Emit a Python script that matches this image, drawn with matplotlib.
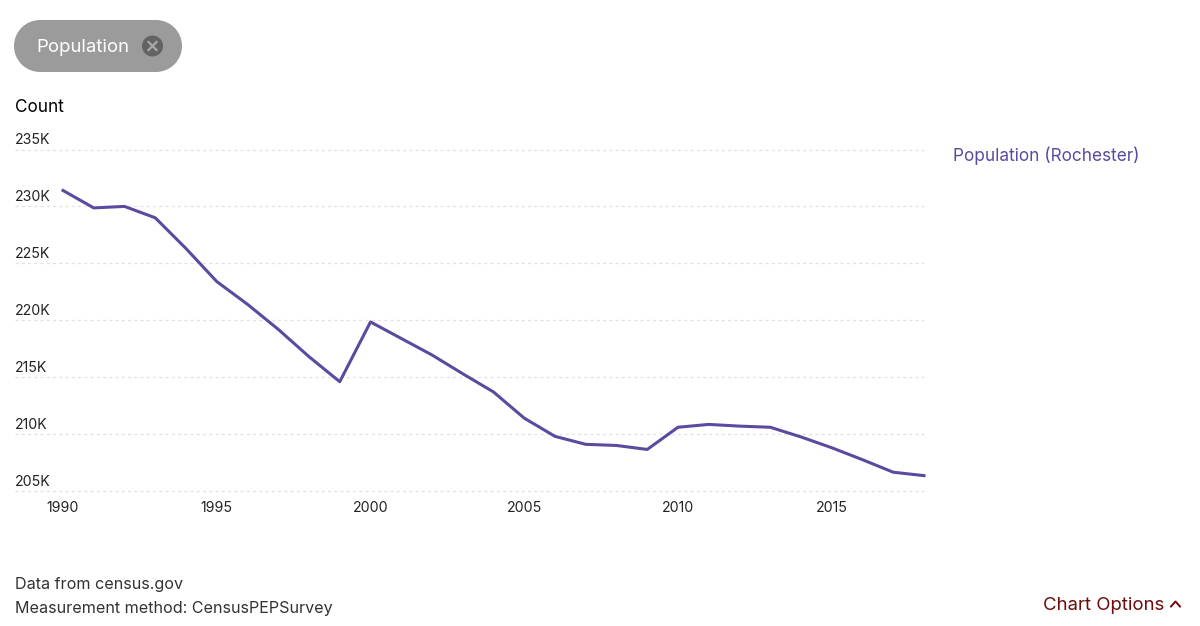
import matplotlib
matplotlib.use("Agg")
import matplotlib.pyplot as plt
from matplotlib.patches import Rectangle, Circle

plt.rcParams['font.family'] = ['Inter', 'DejaVu Sans']

years = list(range(1990, 2019))
population = [231400, 229870, 230000, 229000, 226300, 223400, 221400, 219200, 216800, 214600,
              219850, 218400, 216950, 215300, 213700, 211400, 209800, 209100, 209000, 208650,
              210600, 210850, 210700, 210600, 209750, 208800, 207750, 206650, 206350]
y_ticks = [205000, 210000, 215000, 220000, 225000, 230000, 235000]
y_labels = ['205K', '210K', '215K', '220K', '225K', '230K', '235K']
x_ticks = [1990, 1995, 2000, 2005, 2010, 2015]
series_label = 'Population (Rochester)'

W, H = 1200, 626
fig = plt.figure(figsize=(W / 100, H / 100), dpi=100, facecolor='white')

# Overlay in pixel coordinates for the page furniture
ov = fig.add_axes([0, 0, 1, 1])
ov.set_xlim(0, W)
ov.set_ylim(H, 0)
ov.axis('off')

# Plot area
L, R, T, B = 63, 924, 149.5, 491
ax = fig.add_axes([L / W, 1 - B / H, (R - L) / W, (B - T) / H])
ax.patch.set_alpha(0)
ax.set_xlim(1990, 2018)
ax.set_ylim(205000, 235000)
for s in ax.spines.values():
    s.set_visible(False)
ax.set_yticks(y_ticks)
ax.set_yticklabels([])
ax.set_xticks(x_ticks)
ax.tick_params(axis='y', length=0)
ax.tick_params(axis='x', length=0, pad=7, labelsize=10.2, labelcolor='#222222')
ax.plot(years, population, color='#5b4a9f', lw=2.2, solid_joinstyle='round', clip_on=False)

# Gridlines extend left past the first year, beneath the tick labels
for v, lab in zip(y_ticks, y_labels):
    y = B - (v - 205000) / 30000 * (B - T)
    ov.plot([15, R], [y, y], color='#e2e2e2', lw=0.9, dashes=(2.5, 2.5), zorder=0)
    ov.text(15, y - 9.5, lab, fontsize=10.2, color='#222222', va='center', ha='left')

# Pill
ov.add_patch(Rectangle((40, 20), 116, 52, fc='#9b9b9b', ec='none'))
ov.add_patch(Circle((40, 46), 26, fc='#9b9b9b', ec='none'))
ov.add_patch(Circle((156, 46), 26, fc='#9b9b9b', ec='none'))
ov.text(36, 47.5, 'Population', color='white', fontsize=13.4, va='center', ha='left')
ov.add_patch(Circle((152.5, 46), 10.5, fc='#636363', ec='none'))
ov.plot([148.5, 156.5], [42, 50], color='#a8a8a8', lw=1.6)
ov.plot([148.5, 156.5], [50, 42], color='#a8a8a8', lw=1.6)

ov.text(15, 108, 'Count', color='black', fontsize=12.4, va='center', ha='left')
ov.text(953, 156, series_label, color='#5b4a9f', fontsize=12.4, va='center', ha='left')
ov.text(15, 584, 'Data from census.gov', color='#333333', fontsize=11.6, va='center', ha='left')
ov.text(15, 608, 'Measurement method: CensusPEPSurvey', color='#333333', fontsize=11.6, va='center', ha='left')
ov.text(1043, 605.5, 'Chart Options', color='#6e0b0b', fontsize=13.4, va='center', ha='left')
ov.plot([1171, 1175.5, 1180], [606.5, 601.5, 606.5], color='#6e0b0b', lw=1.4)

fig.savefig('out.png', dpi=100)
